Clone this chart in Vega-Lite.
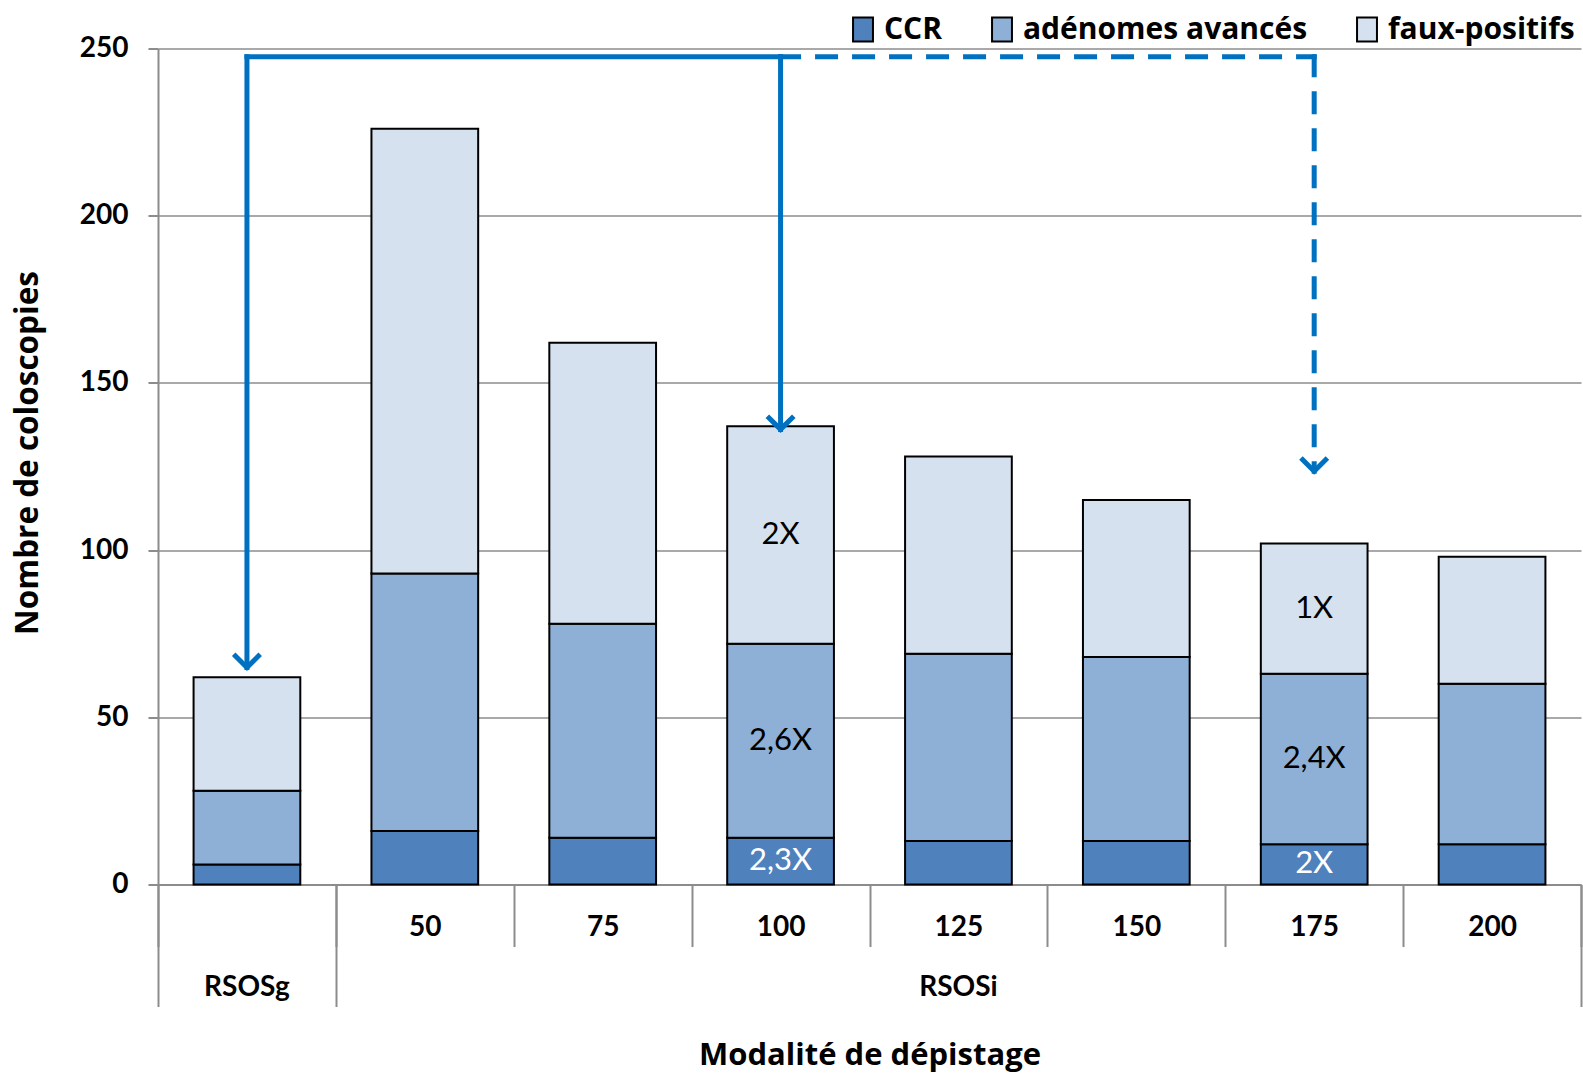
{
  "$schema": "https://vega.github.io/schema/vega-lite/v6.json",
  "width": 1423,
  "height": 836,
  "autosize": {"type": "none"},
  "padding": {"left": 158, "top": 48.5, "right": 2, "bottom": 188.5},
  "background": "white",
  "config": {
    "font": "Lato",
    "view": {"stroke": null}
  },
  "datasets": {
    "coloscopies": [
      {"modalite": "RSOSg", "type": "CCR", "n": 6, "rapport": ""},
      {"modalite": "RSOSg", "type": "adénomes avancés", "n": 22, "rapport": ""},
      {"modalite": "RSOSg", "type": "faux-positifs", "n": 34, "rapport": ""},
      {"modalite": "50", "type": "CCR", "n": 16, "rapport": ""},
      {"modalite": "50", "type": "adénomes avancés", "n": 77, "rapport": ""},
      {"modalite": "50", "type": "faux-positifs", "n": 133, "rapport": ""},
      {"modalite": "75", "type": "CCR", "n": 14, "rapport": ""},
      {"modalite": "75", "type": "adénomes avancés", "n": 64, "rapport": ""},
      {"modalite": "75", "type": "faux-positifs", "n": 84, "rapport": ""},
      {"modalite": "100", "type": "CCR", "n": 14, "rapport": "2,3X"},
      {"modalite": "100", "type": "adénomes avancés", "n": 58, "rapport": "2,6X"},
      {"modalite": "100", "type": "faux-positifs", "n": 65, "rapport": "2X"},
      {"modalite": "125", "type": "CCR", "n": 13, "rapport": ""},
      {"modalite": "125", "type": "adénomes avancés", "n": 56, "rapport": ""},
      {"modalite": "125", "type": "faux-positifs", "n": 59, "rapport": ""},
      {"modalite": "150", "type": "CCR", "n": 13, "rapport": ""},
      {"modalite": "150", "type": "adénomes avancés", "n": 55, "rapport": ""},
      {"modalite": "150", "type": "faux-positifs", "n": 47, "rapport": ""},
      {"modalite": "175", "type": "CCR", "n": 12, "rapport": "2X"},
      {"modalite": "175", "type": "adénomes avancés", "n": 51, "rapport": "2,4X"},
      {"modalite": "175", "type": "faux-positifs", "n": 39, "rapport": "1X"},
      {"modalite": "200", "type": "CCR", "n": 12, "rapport": ""},
      {"modalite": "200", "type": "adénomes avancés", "n": 48, "rapport": ""},
      {"modalite": "200", "type": "faux-positifs", "n": 38, "rapport": ""}
    ],
    "liaisons": [
      {"de": "RSOSg", "vers": "100", "niveau": 247.5, "statut": "mesuré"},
      {"de": "100", "vers": "175", "niveau": 247.5, "statut": "projeté"}
    ],
    "descentes": [
      {"modalite": "RSOSg", "haut": 247.5, "bas": 64.9, "statut": "mesuré"},
      {"modalite": "100", "haut": 247.5, "bas": 136.1, "statut": "mesuré"},
      {"modalite": "175", "haut": 247.5, "bas": 123.6, "statut": "projeté"}
    ]
  },
  "layer": [
    {
      "data": {"name": "coloscopies"},
      "transform": [
        {"stack": "n", "groupby": ["modalite"], "sort": [{"field": "type"}], "as": ["y0", "y1"]}
      ],
      "mark": {"type": "bar", "stroke": "black", "strokeWidth": 2, "width": {"band": 0.6}},
      "encoding": {
        "x": {
          "field": "modalite",
          "type": "nominal",
          "scale": {
            "domain": ["RSOSg", "50", "75", "100", "125", "150", "175", "200"],
            "paddingInner": 0,
            "paddingOuter": 0
          },
          "axis": {
            "orient": "bottom",
            "title": null,
            "tickBand": "extent",
            "tickSize": 62,
            "tickWidth": 2,
            "tickColor": "#8c8c8c",
            "domainColor": "#8c8c8c",
            "domainWidth": 2,
            "grid": false,
            "labelExpr": "datum.value === 'RSOSg' ? '' : datum.label",
            "labelFontSize": 28,
            "labelFontWeight": "bold",
            "labelColor": "black",
            "labelAngle": 0,
            "labelBaseline": "middle",
            "labelPadding": -19.5,
            "labelOverlap": false
          }
        },
        "y": {
          "field": "y1",
          "type": "quantitative",
          "title": "Nombre de coloscopies",
          "scale": {"domain": [0, 250], "nice": false},
          "axis": {
            "values": [0, 50, 100, 150, 200, 250],
            "grid": true,
            "gridColor": "#8c8c8c",
            "gridWidth": 1.5,
            "domainColor": "#8c8c8c",
            "domainWidth": 2,
            "tickColor": "#8c8c8c",
            "tickWidth": 2,
            "tickSize": 10,
            "labelPadding": 20,
            "labelFontSize": 28,
            "labelFontWeight": "bold",
            "labelColor": "black",
            "titleFont": "Open Sans",
            "titleFontSize": 31.5,
            "titleFontWeight": "bold",
            "titleColor": "black",
            "titleAngle": -90,
            "titleX": -130,
            "titleY": 404,
            "titleAlign": "center",
            "titleBaseline": "middle"
          }
        },
        "y2": {"field": "y0"},
        "color": {
          "field": "type",
          "type": "nominal",
          "scale": {
            "domain": ["CCR", "adénomes avancés", "faux-positifs"],
            "range": ["#4f81bd", "#8eb0d7", "#d6e1ef"]
          },
          "legend": {
            "title": null,
            "orient": "none",
            "direction": "horizontal",
            "legendX": 690,
            "legendY": -34,
            "symbolType": "M-0.83,-1H0.83V1H-0.83Z",
            "symbolSize": 576,
            "symbolStrokeColor": "black",
            "symbolStrokeWidth": 2,
            "labelFont": "Open Sans",
            "labelFontSize": 30,
            "labelFontWeight": "bold",
            "labelColor": "black",
            "labelOffset": 6,
            "labelLimit": 400,
            "columnPadding": 44
          }
        }
      }
    },
    {
      "data": {"name": "coloscopies"},
      "transform": [
        {"stack": "n", "groupby": ["modalite"], "sort": [{"field": "type"}], "as": ["y0", "y1"]},
        {"filter": "datum.rapport !== ''"},
        {"calculate": "(datum.y0 + datum.y1) / 2", "as": "milieu"}
      ],
      "mark": {"type": "text", "fontSize": 31, "font": "Lato", "baseline": "middle", "align": "center"},
      "encoding": {
        "x": {
          "field": "modalite",
          "type": "nominal",
          "axis": {
            "orient": "bottom",
            "title": null,
            "values": ["RSOSg", "50", "200"],
            "tickBand": "extent",
            "tickSize": 122,
            "tickWidth": 2,
            "tickColor": {"condition": {"test": "datum.value === '50'", "value": "transparent"}, "value": "#8c8c8c"},
            "labels": false,
            "domain": false,
            "grid": false
          }
        },
        "y": {"field": "milieu", "type": "quantitative", "title": "Nombre de coloscopies"},
        "text": {"field": "rapport"},
        "color": {"condition": {"test": "datum.type === 'CCR'", "value": "white"}, "value": "black"}
      }
    },
    {
      "data": {"name": "liaisons"},
      "transform": [{"filter": "datum.statut === 'mesuré'"}],
      "mark": {"type": "rule", "stroke": "#0070c0", "strokeWidth": 5, "strokeCap": "square"},
      "encoding": {
        "x": {
          "field": "de",
          "type": "nominal",
          "axis": {
            "orient": "bottom",
            "title": "Modalité de dépistage",
            "values": ["RSOSg", "125"],
            "ticks": false,
            "tickSize": 0,
            "domain": false,
            "grid": false,
            "labelExpr": "datum.value === 'RSOSg' ? 'RSOSg' : 'RSOSi'",
            "labelFontSize": 28,
            "labelFontWeight": "bold",
            "labelColor": "black",
            "labelAngle": 0,
            "labelBaseline": "middle",
            "labelPadding": 103,
            "labelOverlap": false,
            "titleFont": "Open Sans",
            "titleFontSize": 31,
            "titleFontWeight": "bold",
            "titleColor": "black",
            "titleX": 711.5,
            "titleY": 170.5,
            "titleAlign": "center",
            "titleBaseline": "middle"
          }
        },
        "x2": {"field": "vers"},
        "y": {"field": "niveau", "type": "quantitative", "title": "Nombre de coloscopies"}
      }
    },
    {
      "data": {"name": "liaisons"},
      "transform": [{"filter": "datum.statut === 'projeté'"}],
      "mark": {"type": "rule", "stroke": "#0070c0", "strokeWidth": 5, "strokeDash": [18, 19], "strokeCap": "square"},
      "encoding": {
        "x": {"field": "de", "type": "nominal", "axis": null},
        "x2": {"field": "vers"},
        "y": {"field": "niveau", "type": "quantitative", "title": "Nombre de coloscopies"}
      }
    },
    {
      "data": {"name": "descentes"},
      "transform": [{"filter": "datum.statut === 'mesuré'"}],
      "mark": {"type": "rule", "stroke": "#0070c0", "strokeWidth": 5, "strokeCap": "square"},
      "encoding": {
        "x": {"field": "modalite", "type": "nominal", "axis": null},
        "y": {"field": "haut", "type": "quantitative", "title": "Nombre de coloscopies"},
        "y2": {"field": "bas"}
      }
    },
    {
      "data": {"name": "descentes"},
      "transform": [{"filter": "datum.statut === 'projeté'"}],
      "mark": {"type": "rule", "stroke": "#0070c0", "strokeWidth": 5, "strokeDash": [18, 19], "strokeCap": "square"},
      "encoding": {
        "x": {"field": "modalite", "type": "nominal", "axis": null},
        "y": {"field": "haut", "type": "quantitative", "title": "Nombre de coloscopies"},
        "y2": {"field": "bas"}
      }
    },
    {
      "data": {"name": "descentes"},
      "mark": {
        "type": "point",
        "shape": "M-1,-1L0,0L1,-1",
        "size": 700,
        "filled": false,
        "stroke": "#0070c0",
        "strokeWidth": 5,
        "strokeJoin": "miter",
        "opacity": 1
      },
      "encoding": {
        "x": {"field": "modalite", "type": "nominal", "axis": null},
        "y": {"field": "bas", "type": "quantitative", "title": "Nombre de coloscopies"}
      }
    }
  ],
  "resolve": {"axis": {"x": "independent"}}
}
